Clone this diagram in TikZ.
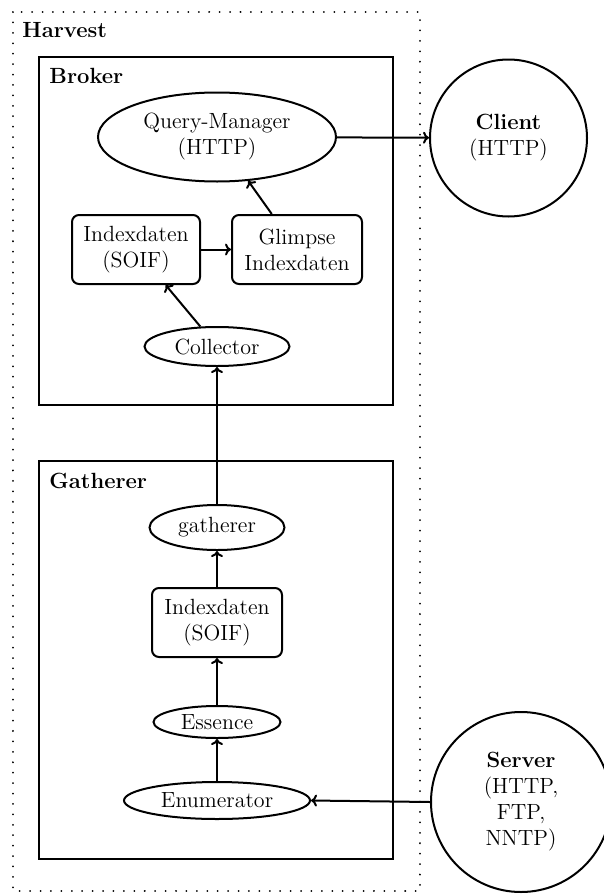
\documentclass[tikz,border=0pt]{standalone}
\usetikzlibrary{shapes.geometric,arrows.meta}
\begin{document}
\begin{tikzpicture}[x=0.5pt,y=-0.5pt,
  every node/.style={font=\fontsize{11}{13}\selectfont, inner sep=0pt, align=center},
  ell/.style={ellipse, draw, line width=1pt},
  rbox/.style={rectangle, rounded corners=3.5pt, draw, line width=1pt},
  circ/.style={circle, draw, line width=1pt},
  frame/.style={draw, line width=1.3pt},
  outer/.style={draw, line width=1pt, dash pattern=on 0.01pt off 5.2pt, line cap=round},
  conn/.style={line width=1pt, -{To[length=3pt,width=6pt]}},
  title/.style={anchor=base west, font=\fontsize{11}{13}\selectfont\bfseries}]
\useasboundingbox (0,0) rectangle (604,894);
% containers
\draw[outer] (13,12) rectangle (420,891);
\draw[frame] (39,57) rectangle (393,405);
\draw[frame] (39,461) rectangle (393,859);
\node[title] (tharvest) at (22,37) {Harvest};
\node[title] (tbroker) at (49,83) {Broker};
\node[title] (tgath) at (49,488) {Gatherer};
% broker
\node[ell, minimum width=119pt, minimum height=44.5pt] (qm) at (217,137) {Query-Manager\\(HTTP)};
\node[rbox, minimum width=64pt, minimum height=34.5pt] (bidx) at (136,249.5) {Indexdaten\\(SOIF)};
\node[rbox, minimum width=65pt, minimum height=34.5pt] (glimpse) at (297,249.5) {Glimpse\\Indexdaten};
\node[ell, minimum width=72.5pt, minimum height=19.5pt] (coll) at (217,346.5) {Collector};
% gatherer
\node[ell, minimum width=67.5pt, minimum height=22.5pt] (gath) at (217,527.5) {gatherer};
\node[rbox, minimum width=65pt, minimum height=34.5pt] (gidx) at (217,622.5) {Indexdaten\\(SOIF)};
\node[ell, minimum width=63.5pt, minimum height=16pt] (ess) at (217,722) {Essence};
\node[ell, minimum width=93pt, minimum height=18.5pt] (enum) at (217,800.5) {Enumerator};
% outside
\node[circ, minimum size=78.5pt] (client) at (508.5,138) {\textbf{Client}\\(HTTP)};
\node[circ, minimum size=90pt] (server) at (521,802) {\textbf{Server}\\(HTTP,\\FTP,\\NNTP)};
% connectors
\draw[conn] (qm) -- (client);
\draw[conn] (bidx) -- (glimpse);
\draw[conn] (glimpse) -- (qm);
\draw[conn] (coll) -- (bidx);
\draw[conn] (gath) -- (coll);
\draw[conn] (gidx) -- (gath);
\draw[conn] (ess) -- (gidx);
\draw[conn] (enum) -- (ess);
\draw[conn] (server.west) -- (enum.east);
\end{tikzpicture}
\end{document}
